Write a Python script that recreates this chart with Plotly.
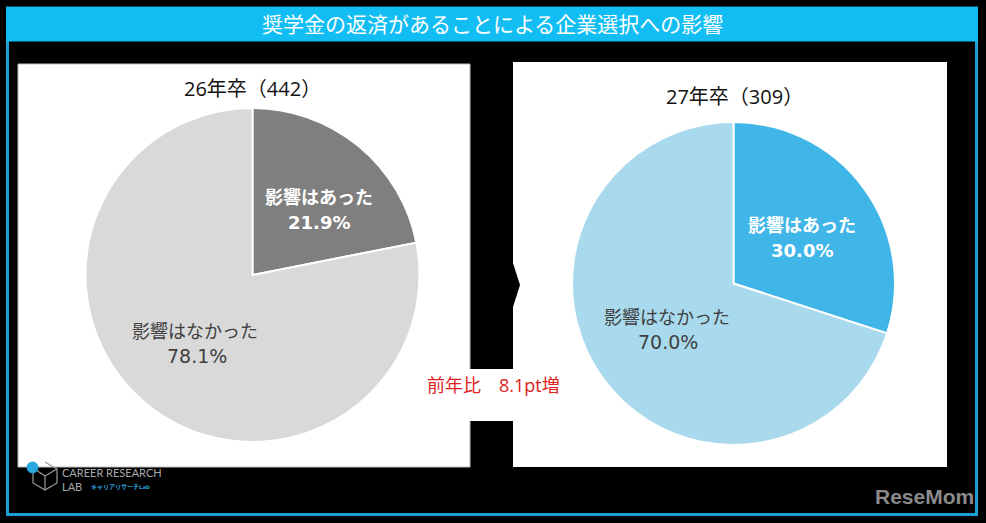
import plotly.graph_objects as go

W, H = 986, 523

# ---- data ----
title_text = "奨学金の返済があることによる企業選択への影響"
panel_titles = ["26年卒（442）", "27年卒（309）"]
categories = ["影響はあった", "影響はなかった"]
values_26 = [21.9, 78.1]
values_27 = [30.0, 70.0]
diff_text = "前年比　8.1pt増"

colors_26 = ["#7F7F7F", "#D9D9D9"]
colors_27 = ["#3FB5E8", "#A9D9EC"]

FONT = "Open Sans, Noto Sans CJK JP"
NUMFONT = "DejaVu Sans, Noto Sans CJK JP"


def px(x):
    return x / W


def py(y):
    return 1 - y / H


fig = go.Figure()

pies = [
    (values_26, colors_26, (84, 421, 108, 442)),
    (values_27, colors_27, (572, 895, 122, 445)),
]
for vals, cols, (x0, x1, y0, y1) in pies:
    fig.add_trace(go.Pie(
        labels=categories,
        values=vals,
        sort=False,
        direction="clockwise",
        rotation=0,
        marker=dict(colors=cols, line=dict(color="white", width=2)),
        textinfo="none",
        hoverinfo="label+percent",
        showlegend=False,
        domain=dict(x=[px(x0), px(x1)], y=[py(y1), py(y0)]),
    ))

shapes = []
# outer frame
shapes.append(dict(type="rect", xref="paper", yref="paper",
                   x0=px(7.5), x1=px(976.5), y0=py(514.5), y1=py(8),
                   line=dict(color="#1C9FD9", width=3), fillcolor="rgba(0,0,0,0)", layer="below"))
# title bar
shapes.append(dict(type="rect", xref="paper", yref="paper",
                   x0=px(6), x1=px(978), y0=py(41.5), y1=py(7),
                   line=dict(width=0), fillcolor="#12BDF3", layer="below"))
# white panels
shapes.append(dict(type="rect", xref="paper", yref="paper",
                   x0=px(18), x1=px(470), y0=py(467), y1=py(64),
                   line=dict(color="#BFBFBF", width=1), fillcolor="white", layer="below"))
shapes.append(dict(type="rect", xref="paper", yref="paper",
                   x0=px(513), x1=px(947), y0=py(467), y1=py(62),
                   line=dict(width=0), fillcolor="white", layer="below"))
# white strip behind the difference text
shapes.append(dict(type="rect", xref="paper", yref="paper",
                   x0=px(469), x1=px(514), y0=py(421), y1=py(369),
                   line=dict(width=0), fillcolor="white", layer="below"))
# chevron tip of the black arrow
shapes.append(dict(type="path", xref="paper", yref="paper",
                   path=f"M {px(512)} {py(260)} L {px(520)} {py(285)} L {px(512)} {py(310)} Z",
                   line=dict(width=0), fillcolor="black", layer="below"))
# logo: blue dot and cube outline
shapes.append(dict(type="path", xref="paper", yref="paper",
                   path=(f"M {px(45)} {py(462)} L {px(57)} {py(469)} L {px(57)} {py(483)} "
                         f"L {px(45)} {py(490)} L {px(33)} {py(483)} L {px(33)} {py(472)} "
                         f"M {px(45)} {py(476)} L {px(57)} {py(469)} M {px(45)} {py(476)} L {px(45)} {py(490)} "
                         f"M {px(45)} {py(476)} L {px(36)} {py(470)}"),
                   line=dict(color="#9A9A9A", width=1.2), fillcolor="rgba(0,0,0,0)", layer="above"))
shapes.append(dict(type="circle", xref="paper", yref="paper",
                   x0=px(27), x1=px(38), y0=py(473), y1=py(462),
                   line=dict(color="#1C9FD9", width=1), fillcolor="#2AA8E0", layer="above"))

annotations = []


def ann(text, x, y, size, color, bold=False, family=FONT, xanchor="center"):
    t = f"<b>{text}</b>" if bold else text
    annotations.append(dict(text=t, x=px(x), y=py(y), xref="paper", yref="paper",
                            showarrow=False, xanchor=xanchor, yanchor="middle",
                            borderpad=0,
                            font=dict(family=family, size=size, color=color)))


ann(title_text, 492, 24, 21, "white")
ann(panel_titles[0], 252, 88, 20, "#111111")
ann(panel_titles[1], 734, 96, 20, "#111111")

# left pie labels
ann(categories[0], 319, 197, 18, "white", bold=True)
ann(f"{values_26[0]:.1f}%", 319, 222, 18, "white", bold=True, family=NUMFONT)
ann(categories[1], 195, 331, 18, "#404040")
ann(f"{values_26[1]:.1f}%", 197, 356, 19, "#404040", family=NUMFONT)
# right pie labels
ann(categories[0], 802, 225, 18, "white", bold=True)
ann(f"{values_27[0]:.1f}%", 802, 250, 18, "white", bold=True, family=NUMFONT)
ann(categories[1], 667, 317, 18, "#404040")
ann(f"{values_27[1]:.1f}%", 668, 342, 19, "#404040", family=NUMFONT)

ann(diff_text, 493, 385, 18, "#E0221E")

# logo texts
ann("マイナビ", 62, 462, 6, "white", bold=True, xanchor="left")
ann("CAREER RESEARCH", 61, 472, 11, "#A8A8A8", family="Lato", xanchor="left")
ann("LAB", 61, 487, 11, "#A8A8A8", family="Lato", xanchor="left")
ann("キャリアリサーチLab", 90, 487, 6, "#2A9FD6", bold=True, xanchor="left")

# watermark
ann("ReseMom", 924, 496, 21, "#8A8A8A", bold=True, family="Liberation Sans")

fig.update_layout(
    width=W, height=H,
    margin=dict(l=0, r=0, t=0, b=0),
    paper_bgcolor="black",
    plot_bgcolor="black",
    shapes=shapes,
    annotations=annotations,
)

fig.write_html("out.html", config={"displayModeBar": False},
               post_script="document.body.style.margin='0';document.body.style.background='black';")
